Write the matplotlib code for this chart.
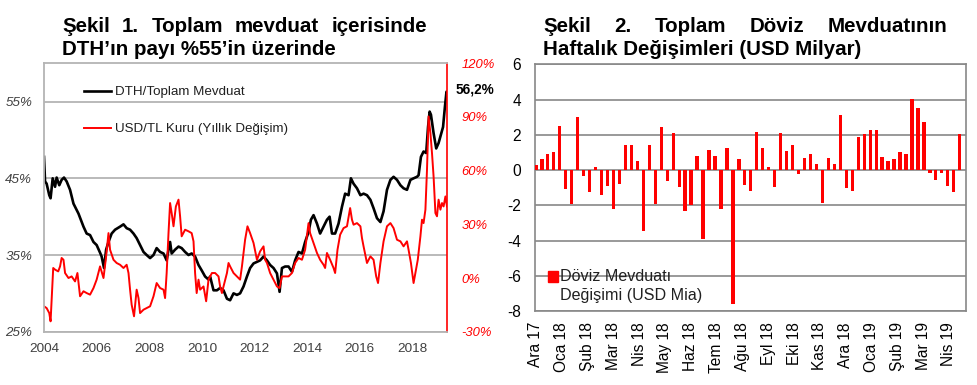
import matplotlib
matplotlib.use('Agg')
import matplotlib.pyplot as plt
import numpy as np
from matplotlib.patches import Rectangle

plt.rcParams['font.family'] = ['Liberation Sans', 'DejaVu Sans']

# ---------------- data: left chart ----------------
dth_years = [0.00, 0.04, 0.10, 0.20, 0.25, 0.33, 0.42, 0.48, 0.58, 0.67, 0.76, 0.86, 0.99, 1.12, 1.31,
             1.50, 1.62, 1.75, 1.88, 2.00, 2.13, 2.19, 2.28, 2.36, 2.45, 2.57, 2.70, 2.89, 3.02, 3.14,
             3.27, 3.40, 3.52, 3.65, 3.78, 3.90, 4.03, 4.16, 4.28, 4.41, 4.54, 4.66, 4.73, 4.79, 4.85,
             4.98, 5.11, 5.23, 5.36, 5.49, 5.61, 5.74, 5.87, 5.99, 6.12, 6.25, 6.31, 6.44, 6.57, 6.69,
             6.82, 6.95, 7.07, 7.20, 7.33, 7.45, 7.58, 7.71, 7.83, 7.96, 8.09, 8.21, 8.34, 8.47, 8.59,
             8.72, 8.85, 8.95, 9.04, 9.16, 9.29, 9.42, 9.54, 9.67, 9.80, 9.92, 10.05, 10.14, 10.24, 10.37,
             10.49, 10.62, 10.75, 10.85, 10.94, 11.06, 11.19, 11.32, 11.44, 11.57, 11.66, 11.76, 11.89, 12.02, 12.14,
             12.27, 12.40, 12.52, 12.65, 12.78, 12.90, 13.03, 13.16, 13.28, 13.41, 13.54, 13.66, 13.79, 13.92, 14.04,
             14.17, 14.23, 14.32, 14.42, 14.52, 14.59, 14.65, 14.70, 14.80, 14.90, 14.99, 15.08, 15.16, 15.23, 15.29,
             15.31]
dth_share = [47.8, 44.6, 44.3, 42.8, 42.4, 45.0, 43.9, 45.1, 44.1, 44.8, 45.1, 44.6, 43.5, 41.7, 40.4,
             38.7, 37.8, 37.6, 36.7, 36.3, 35.3, 34.8, 33.3, 35.7, 36.7, 37.8, 38.3, 38.7, 39.0, 38.5,
             38.3, 37.8, 37.2, 36.3, 35.4, 35.0, 34.6, 35.0, 35.9, 35.4, 35.2, 34.3, 35.7, 36.7, 35.2,
             35.7, 36.1, 35.9, 35.4, 35.0, 35.2, 34.8, 33.7, 33.0, 32.2, 31.8, 32.2, 30.4, 30.4, 30.7,
             30.4, 29.3, 29.1, 30.0, 29.8, 30.0, 30.9, 32.2, 33.3, 33.9, 34.1, 34.3, 34.8, 34.3, 33.7,
             33.3, 32.6, 30.2, 33.3, 33.5, 33.5, 32.8, 34.3, 35.4, 35.2, 36.7, 38.0, 39.6, 40.2, 39.1,
             37.8, 38.7, 39.6, 40.0, 37.8, 37.8, 39.1, 41.3, 43.0, 42.8, 45.0, 44.3, 43.7, 42.8, 43.0,
             42.8, 42.2, 41.1, 39.8, 39.3, 40.7, 43.5, 44.8, 45.2, 44.8, 44.1, 43.7, 43.5, 44.8, 45.0,
             45.2, 45.4, 47.8, 48.5, 48.3, 51.7, 53.7, 53.3, 50.9, 48.9, 49.6, 50.7, 51.7, 54.3, 56.3,
             56.2]

usd_years = [0.00, 0.10, 0.20, 0.25, 0.29, 0.35, 0.42, 0.54, 0.61, 0.67, 0.74, 0.80, 0.93, 1.05, 1.18,
             1.27, 1.37, 1.50, 1.62, 1.75, 1.88, 2.00, 2.13, 2.26, 2.36, 2.45, 2.51, 2.64, 2.76, 2.89,
             3.02, 3.14, 3.21, 3.27, 3.33, 3.42, 3.52, 3.59, 3.65, 3.78, 3.90, 4.03, 4.16, 4.28, 4.41,
             4.54, 4.60, 4.66, 4.73, 4.79, 4.85, 4.92, 5.01, 5.11, 5.17, 5.23, 5.36, 5.49, 5.61, 5.68,
             5.74, 5.80, 5.87, 5.93, 6.06, 6.16, 6.25, 6.38, 6.50, 6.63, 6.69, 6.76, 6.82, 6.95, 7.01,
             7.07, 7.20, 7.33, 7.45, 7.52, 7.64, 7.73, 7.83, 7.96, 8.09, 8.21, 8.34, 8.40, 8.47, 8.59,
             8.72, 8.85, 8.95, 9.04, 9.16, 9.29, 9.42, 9.54, 9.67, 9.80, 9.92, 10.05, 10.11, 10.24, 10.37,
             10.49, 10.62, 10.68, 10.75, 10.87, 11.00, 11.06, 11.15, 11.25, 11.38, 11.51, 11.63, 11.70, 11.76, 11.89,
             12.02, 12.08, 12.14, 12.27, 12.40, 12.52, 12.62, 12.69, 12.78, 12.90, 13.03, 13.16, 13.28, 13.41, 13.54,
             13.66, 13.79, 13.85, 13.94, 14.04, 14.11, 14.20, 14.30, 14.36, 14.42, 14.49, 14.55, 14.61, 14.68, 14.74,
             14.80, 14.87, 14.93, 14.99, 15.06, 15.12, 15.18, 15.25, 15.31]
usd_change = [-15.8, -16.8, -19.6, -24.2, -12.1, 5.6, 4.7, 3.7, 6.5, 11.2, 10.2, 2.8, 0.0, 0.9, -1.9,
              2.8, -10.2, -7.4, -8.4, -9.3, -5.6, -0.9, 6.5, 0.0, 12.1, 25.1, 15.8, 10.2, 8.4, 7.4,
              5.6, 7.4, 2.8, -6.5, -14.9, -21.4, -6.5, -11.2, -19.6, -17.7, -16.8, -15.8, -10.2, -2.8, -5.6,
              -6.5, -11.2, 2.8, 25.1, 41.9, 36.3, 28.9, 40.0, 43.8, 34.5, 23.3, 27.0, 26.1, 25.1, 20.5,
              2.8, -8.4, -0.9, -6.5, -4.7, -13.0, -0.9, 2.8, 2.8, 0.9, -4.7, -8.4, -4.7, 2.8, 8.4,
              6.5, 2.8, 0.9, -0.9, 6.5, 21.4, 28.9, 25.1, 19.6, 10.2, 14.9, 17.7, 10.2, 8.4, 2.8,
              -0.9, -4.7, -5.6, 0.9, 0.9, 0.9, 2.8, 8.4, 11.2, 10.2, 15.8, 30.7, 25.1, 19.6, 14.0,
              10.2, 7.4, 5.6, 14.0, 10.2, 5.6, 2.8, 15.8, 24.2, 27.9, 28.9, 39.1, 32.6, 29.8, 30.7,
              28.9, 22.3, 17.7, 8.4, 12.1, 10.2, 0.9, -2.8, 8.4, 20.5, 28.9, 30.7, 27.9, 21.4, 20.5,
              17.7, 20.5, 15.8, 8.4, -2.8, 2.8, 10.2, 23.3, 32.6, 30.7, 38.2, 60.5, 90.3, 81.0, 69.8,
              56.8, 36.3, 34.5, 43.8, 38.2, 41.9, 40.0, 45.6, 40.0]

left_yticks = [25, 35, 45, 55]
right_yticks = [-30, 0, 30, 60, 90, 120]
left_xticks = [2004, 2006, 2008, 2010, 2012, 2014, 2016, 2018]
last_label = "56,2%"

# ---------------- data: right chart ----------------
fx_change = [0.3, 0.6, 0.9, 1.0, 2.5, -1.1, -1.95, 3.0, -0.35, -1.25, 0.2, -1.4, -0.9, -2.2, -0.8,
             1.4, 1.4, 0.5, -3.45, 1.4, -1.9, 2.45, -0.6, 2.1, -0.95, -2.3, -2.0, 0.8, -3.9, 1.15,
             0.8, -2.2, 1.25, -7.6, 0.6, -0.85, -1.2, 2.15, 1.25, 0.15, -0.95, 2.1, 1.1, 1.4, -0.2,
             0.7, 0.9, 0.35, -1.85, 0.7, 0.35, 3.15, -1.0, -1.2, 1.9, 2.05, 2.25, 2.25, 0.75, 0.5,
             0.6, 1.05, 0.9, 4.05, 3.5, 2.7, -0.15, -0.55, -0.15, -0.9, -1.25, 2.05]
month_labels = ["Ara 17", "Oca 18", "Şub 18", "Mar 18", "Nis 18", "May 18", "Haz 18", "Tem 18",
                "Ağu 18", "Eyl 18", "Eki 18", "Kas 18", "Ara 18", "Oca 19", "Şub 19", "Mar 19", "Nis 19"]
right_yticks2 = [-8, -6, -4, -2, 0, 2, 4, 6]

# ---------------- figure ----------------
W, H = 978, 385
fig = plt.figure(figsize=(W / 100, H / 100), dpi=100)


def fxp(px):
    return px / W


def fyp(py):
    return 1 - py / H


# ---- left chart ----
ax1 = fig.add_axes([fxp(44), fyp(331.7), 403 / W, 268.4 / H])
ax1r = ax1.twinx()
x_dth = 2004 + np.array(dth_years)
x_usd = 2004 + np.array(usd_years)
ax1.plot(x_dth, dth_share, color='black', lw=1.9, label='DTH/Toplam Mevduat')
ax1r.plot(x_usd, usd_change, color='#ff0000', lw=1.4, label='USD/TL Kuru (Yıllık Değişim)')
ax1.set_xlim(2004, 2019.31)
ax1.set_ylim(25, 60)
ax1r.set_ylim(-30, 120)
ax1.set_yticks(left_yticks)
ax1.set_yticklabels([f"{v}%" for v in left_yticks], style='italic', color='#404040', fontsize=9.6)
ax1r.set_yticks(right_yticks)
ax1r.set_yticklabels([f"{v}%" for v in right_yticks], style='italic', color='#ff0000', fontsize=9.4)
ax1.set_xticks(left_xticks)
ax1.set_xticklabels([str(v) for v in left_xticks], color='#404040', fontsize=9.7)
ax1.tick_params(axis='y', length=0, pad=8.5)
ax1.tick_params(axis='x', length=0, pad=8)
ax1r.tick_params(axis='y', length=0, pad=10.5)
ax1.yaxis.grid(True, color='#b4b4b4', lw=1.3)
ax1.set_axisbelow(True)
for s in ['left', 'top', 'bottom']:
    ax1r.spines[s].set_color('#b4b4b4')
    ax1r.spines[s].set_linewidth(1.3)
ax1r.spines['right'].set_color('#ff0000')
ax1r.spines['right'].set_linewidth(1.2)
for s in ax1.spines.values():
    s.set_visible(False)

h1, l1 = ax1.get_legend_handles_labels()
h2, l2 = ax1r.get_legend_handles_labels()
leg = ax1r.legend(h1 + h2, l1 + l2, loc='upper left', bbox_to_anchor=(0.07, 0.96), frameon=False,
                  fontsize=9.6, handlelength=2.0, handletextpad=0.3, labelspacing=1.85)
for t in leg.get_texts():
    t.set_color('#202020')

fig.text(fxp(456), fyp(89.5), last_label, fontsize=9.8, fontweight='bold', va='center', ha='left')

# ---- right chart ----
ax2 = fig.add_axes([fxp(535), fyp(311), 430.7 / W, 246.7 / H])
idx = np.arange(len(fx_change))
ax2.bar(idx, fx_change, width=0.55, color='#ff0000', zorder=3)
ax2.set_xlim(-0.15, len(fx_change))
ax2.set_ylim(-8, 6)
ax2.set_yticks(right_yticks2)
ax2.set_yticklabels([str(v) for v in right_yticks2], fontsize=11.2)
tick_pos = np.linspace(0, 69.2, len(month_labels))
ax2.set_xticks(tick_pos)
ax2.set_xticklabels(month_labels, rotation=90, fontsize=11.2)
ax2.tick_params(axis='x', length=0, pad=8)
ax2.tick_params(axis='y', length=0, pad=10)
ax2.yaxis.grid(True, color='#888888', lw=1.2)
ax2.set_axisbelow(True)
for s in ax2.spines.values():
    s.set_color('#888888')
    s.set_linewidth(1.2)

fig.patches.append(Rectangle((fxp(548), fyp(281.5)), 10.5 / W, 10.5 / H, transform=fig.transFigure,
                             color='#ff0000', figure=fig))
fig.text(fxp(560), fyp(276.5), "Döviz Mevduatı", fontsize=11.6, va='center', ha='left', color='#202020')
fig.text(fxp(560), fyp(295.5), "Değişimi (USD Mia)", fontsize=11.6, va='center', ha='left', color='#202020')

# ---- titles ----
renderer = fig.canvas.get_renderer()


def justified(words, x0, x1, ybase, **kw):
    texts = [fig.text(0, fyp(ybase), w, va='baseline', ha='left', **kw) for w in words]
    widths = [t.get_window_extent(renderer).width for t in texts]
    gap = ((x1 - x0) - sum(widths)) / (len(words) - 1)
    x = x0
    for t, wd in zip(texts, widths):
        t.set_x(fxp(x))
        x += wd + gap


tkw = dict(fontsize=14.8, fontweight='bold', color='black')
justified("Şekil 1. Toplam mevduat içerisinde".split(), 62, 427, 31.5, **tkw)
fig.text(fxp(62), fyp(55), "DTH’ın payı %55’in üzerinde", va='baseline', ha='left', **tkw)
justified("Şekil 2. Toplam Döviz Mevduatının".split(), 543, 947, 31.5, **tkw)
fig.text(fxp(543), fyp(55), "Haftalık Değişimleri (USD Milyar)", va='baseline', ha='left', **tkw)

fig.savefig('out.png', dpi=100)
